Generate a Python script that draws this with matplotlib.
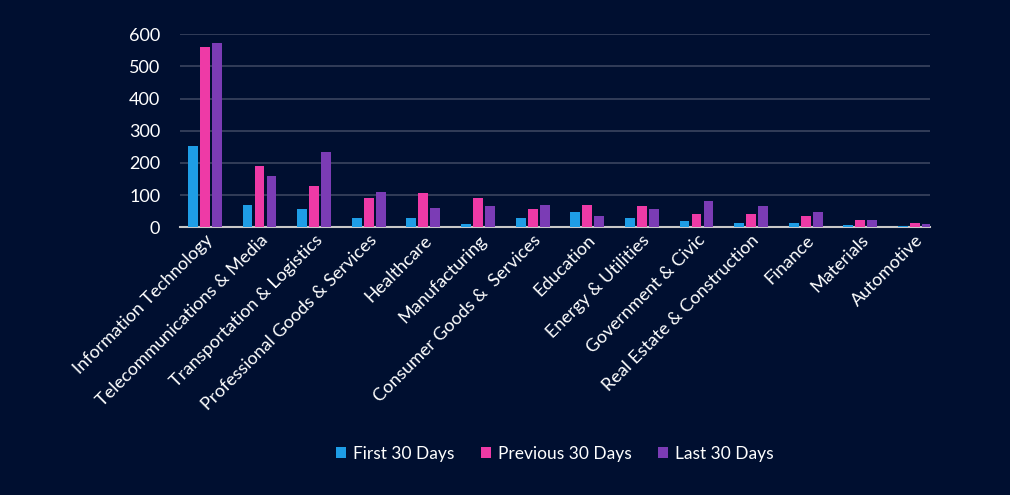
import matplotlib
matplotlib.use("Agg")
import matplotlib.pyplot as plt
import numpy as np

categories = ["Information Technology", "Telecommunications & Media", "Transportation & Logistics",
              "Professional Goods & Services", "Healthcare", "Manufacturing", "Consumer Goods &  Services",
              "Education", "Energy & Utilities", "Government & Civic", "Real Estate & Construction",
              "Finance", "Materials", "Automotive"]
first30 = [252, 68, 56, 30, 30, 10, 30, 48, 30, 18, 14, 14, 8, 4]
prev30 = [560, 190, 127, 90, 106, 90, 57, 68, 65, 40, 40, 35, 22, 13]
last30 = [573, 160, 235, 110, 60, 65, 68, 35, 57, 82, 65, 48, 22, 10]
series = ["First 30 Days", "Previous 30 Days", "Last 30 Days"]
colors = ["#1e9de6", "#ee3aa6", "#7b3cb5"]

plt.rcParams['font.family'] = ['Lato', 'DejaVu Sans']
bg = "#000f30"
fig = plt.figure(figsize=(10.1, 4.95), dpi=100, facecolor=bg)
ax = fig.add_axes([0.178, 0.541, 0.743, 0.39], facecolor=bg)
x = np.arange(len(categories))
w = 0.18
for i, (vals, c, lab) in enumerate(zip([first30, prev30, last30], colors, series)):
    ax.bar(x + (i - 1) * 0.22, vals, w, color=c, label=lab, zorder=3)
ax.set_xlim(-0.46, 13.28)
ax.set_ylim(0, 600)
ax.set_yticks(range(0, 601, 100))
ax.grid(axis='y', color='#3a4560', lw=1.2, zorder=0)
for s in ['top', 'right', 'left']:
    ax.spines[s].set_visible(False)
ax.spines['bottom'].set_color('#c8c8c8')
ax.spines['bottom'].set_linewidth(1.5)
ax.tick_params(axis='both', length=0, colors='white', labelsize=13)
ax.tick_params(axis='y', pad=14)
ax.set_xticks(x)
ax.set_xticklabels(categories, rotation=45, ha='right', rotation_mode='anchor')
leg = ax.legend(loc='center', bbox_to_anchor=(0.5, -1.175), ncol=3, frameon=False,
                fontsize=12.5, labelcolor='white', handlelength=0.6, handleheight=0.6,
                columnspacing=1.5, handletextpad=0.4)
fig.savefig("out.png", dpi=100, facecolor=bg)
